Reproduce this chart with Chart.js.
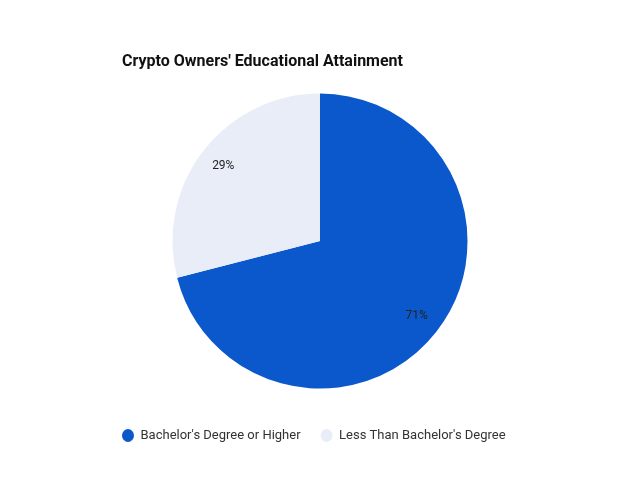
<!DOCTYPE html>
<html>
<head>
<meta charset="utf-8">
<script src="https://cdn.jsdelivr.net/npm/chart.js@4/dist/chart.umd.min.js"></script>
<style>
html,body{margin:0;padding:0;background:#fff;}
#wrap{position:absolute;left:0;top:0;width:640px;height:480px;}
</style>
</head>
<body>
<div id="wrap"><canvas id="c"></canvas></div>
<script>
const titleText = "Crypto Owners' Educational Attainment";
const categories = ["Bachelor's Degree or Higher", "Less Than Bachelor's Degree"];
const shares = [71, 29];
const sliceColors = ["#0b58cd", "#e8edf8"];

const offsetPlugin = {
  id: 'offsetPlugin',
  afterLayout(chart) {
    if (chart.titleBlock) chart.titleBlock.left += 20;
  }
};

const labelPlugin = {
  id: 'labelPlugin',
  afterDatasetsDraw(chart) {
    const ctx = chart.ctx;
    const meta = chart.getDatasetMeta(0);
    ctx.save();
    ctx.font = '12px Roboto';
    ctx.fillStyle = '#222';
    ctx.textAlign = 'center';
    ctx.textBaseline = 'middle';
    meta.data.forEach((arc, i) => {
      const p = arc.getProps(['x','y','startAngle','endAngle','outerRadius']);
      const a = (p.startAngle + p.endAngle) / 2;
      const r = p.outerRadius * 0.83;
      ctx.fillText(shares[i] + '%', p.x + Math.cos(a) * r, p.y + Math.sin(a) * r);
    });
    ctx.restore();
  }
};

new Chart(document.getElementById('c'), {
  type: 'pie',
  data: {
    labels: categories,
    datasets: [{
      data: shares,
      backgroundColor: sliceColors,
      borderWidth: 0,
      radius: 147.5
    }]
  },
  options: {
    responsive: true,
    maintainAspectRatio: false,
    animation: false,
    layout: { padding: { top: 42, left: 102, right: 102, bottom: 28 } },
    plugins: {
      title: {
        display: true,
        text: titleText,
        align: 'start',
        color: '#111',
        font: { family: 'Roboto', size: 16, weight: 'bold' },
        padding: { top: 10, bottom: 2 }
      },
      legend: {
        position: 'bottom',
        align: 'start',
        labels: {
          usePointStyle: true,
          pointStyle: 'circle',
          boxHeight: 9.2,
          pointStyleWidth: 12,
          padding: 20,
          color: '#333',
          font: { family: 'Roboto', size: 13 }
        }
      },
      tooltip: { enabled: false }
    }
  },
  plugins: [offsetPlugin, labelPlugin]
});
</script>
</body>
</html>
